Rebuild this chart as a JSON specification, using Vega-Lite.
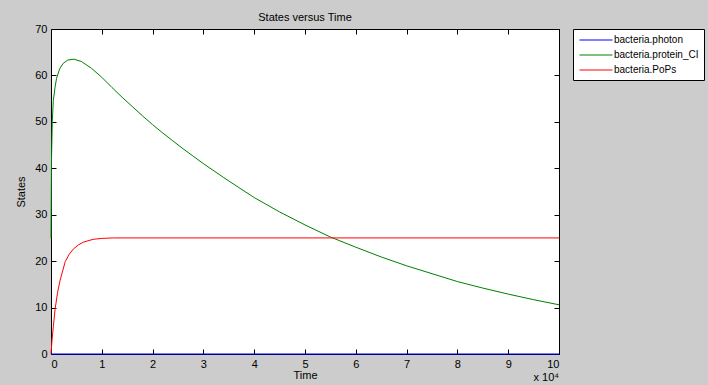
{
  "$schema": "https://vega.github.io/schema/vega-lite/v6.json",
  "width": 508,
  "height": 325,
  "autosize": {"type": "none"},
  "padding": {"left": 51, "top": 29, "right": 149, "bottom": 31},
  "background": "#cccccc",
  "title": {"text": "States versus Time", "fontSize": 11, "fontWeight": "normal", "font": "Liberation Sans", "color": "#000000", "anchor": "middle", "offset": 0},
  "config": {
    "view": {"fill": "#ffffff", "stroke": null},
    "axis": {"labelFont": "Liberation Sans", "labelFontSize": 11, "labelColor": "#000000", "titleFont": "Liberation Sans", "titleFontSize": 11, "titleFontWeight": "normal", "titleColor": "#000000", "domainColor": "#000000", "tickColor": "#000000", "tickSize": -5, "grid": false, "domainWidth": 1, "tickWidth": 1},
    "legend": {"labelFont": "Liberation Sans", "labelFontSize": 10, "labelColor": "#000000"}
  },
  "data": {"values": [
    {"series": "bacteria.photon", "t": 0, "v": 0},
    {"series": "bacteria.photon", "t": 10, "v": 0},
    {"series": "bacteria.protein_CI", "t": 0, "v": 25},
    {"series": "bacteria.protein_CI", "t": 0.01, "v": 42},
    {"series": "bacteria.protein_CI", "t": 0.025, "v": 50},
    {"series": "bacteria.protein_CI", "t": 0.046, "v": 54.6},
    {"series": "bacteria.protein_CI", "t": 0.08, "v": 57.5},
    {"series": "bacteria.protein_CI", "t": 0.11, "v": 59.4},
    {"series": "bacteria.protein_CI", "t": 0.17, "v": 61.4},
    {"series": "bacteria.protein_CI", "t": 0.24, "v": 62.6},
    {"series": "bacteria.protein_CI", "t": 0.33, "v": 63.3},
    {"series": "bacteria.protein_CI", "t": 0.45, "v": 63.5},
    {"series": "bacteria.protein_CI", "t": 0.6, "v": 63.0},
    {"series": "bacteria.protein_CI", "t": 0.8, "v": 61.5},
    {"series": "bacteria.protein_CI", "t": 1.0, "v": 59.6},
    {"series": "bacteria.protein_CI", "t": 1.2, "v": 57.4},
    {"series": "bacteria.protein_CI", "t": 1.4, "v": 55.3},
    {"series": "bacteria.protein_CI", "t": 1.6, "v": 53.3},
    {"series": "bacteria.protein_CI", "t": 1.8, "v": 51.3},
    {"series": "bacteria.protein_CI", "t": 2.0, "v": 49.4},
    {"series": "bacteria.protein_CI", "t": 2.2, "v": 47.6},
    {"series": "bacteria.protein_CI", "t": 2.4, "v": 45.9},
    {"series": "bacteria.protein_CI", "t": 2.6, "v": 44.2},
    {"series": "bacteria.protein_CI", "t": 2.8, "v": 42.6},
    {"series": "bacteria.protein_CI", "t": 3.0, "v": 41.0},
    {"series": "bacteria.protein_CI", "t": 3.4, "v": 38.0},
    {"series": "bacteria.protein_CI", "t": 3.76, "v": 35.4},
    {"series": "bacteria.protein_CI", "t": 4.0, "v": 33.7},
    {"series": "bacteria.protein_CI", "t": 4.5, "v": 30.6},
    {"series": "bacteria.protein_CI", "t": 5.0, "v": 27.8},
    {"series": "bacteria.protein_CI", "t": 5.5, "v": 25.2},
    {"series": "bacteria.protein_CI", "t": 6.0, "v": 23.0},
    {"series": "bacteria.protein_CI", "t": 6.5, "v": 20.9},
    {"series": "bacteria.protein_CI", "t": 7.0, "v": 19.0},
    {"series": "bacteria.protein_CI", "t": 7.5, "v": 17.3},
    {"series": "bacteria.protein_CI", "t": 8.0, "v": 15.6},
    {"series": "bacteria.protein_CI", "t": 8.5, "v": 14.2},
    {"series": "bacteria.protein_CI", "t": 9.0, "v": 12.9},
    {"series": "bacteria.protein_CI", "t": 9.5, "v": 11.7},
    {"series": "bacteria.protein_CI", "t": 10.0, "v": 10.6},
    {"series": "bacteria.PoPs", "t": 0, "v": 0},
    {"series": "bacteria.PoPs", "t": 0.02, "v": 3.0},
    {"series": "bacteria.PoPs", "t": 0.046, "v": 5.9},
    {"series": "bacteria.PoPs", "t": 0.08, "v": 9.6},
    {"series": "bacteria.PoPs", "t": 0.13, "v": 13.3},
    {"series": "bacteria.PoPs", "t": 0.18, "v": 15.9},
    {"series": "bacteria.PoPs", "t": 0.28, "v": 19.9},
    {"series": "bacteria.PoPs", "t": 0.36, "v": 21.5},
    {"series": "bacteria.PoPs", "t": 0.44, "v": 22.6},
    {"series": "bacteria.PoPs", "t": 0.54, "v": 23.5},
    {"series": "bacteria.PoPs", "t": 0.64, "v": 24.1},
    {"series": "bacteria.PoPs", "t": 0.83, "v": 24.7},
    {"series": "bacteria.PoPs", "t": 1.0, "v": 24.9},
    {"series": "bacteria.PoPs", "t": 1.23, "v": 25.0},
    {"series": "bacteria.PoPs", "t": 10.0, "v": 25.0}
  ]},
  "resolve": {"axis": {"x": "independent", "y": "independent"}},
  "layer": [
    {
      "mark": {"type": "line", "strokeWidth": 1, "interpolate": "linear"},
      "encoding": {
        "x": {"field": "t", "type": "quantitative", "scale": {"domain": [0, 10], "nice": false}, "axis": {"orient": "bottom", "values": [0,1,2,3,4,5,6,7,8,9,10], "title": "Time", "labelPadding": 9, "titlePadding": 0}},
        "y": {"field": "v", "type": "quantitative", "scale": {"domain": [0, 70], "nice": false}, "axis": {"orient": "left", "values": [0,10,20,30,40,50,60,70], "title": "States", "labelPadding": 9, "titlePadding": 8}},
        "color": {"field": "series", "type": "nominal", "sort": ["bacteria.photon", "bacteria.protein_CI", "bacteria.PoPs"],
          "scale": {"domain": ["bacteria.photon", "bacteria.protein_CI", "bacteria.PoPs"], "range": ["#0000ff", "#008000", "#ff0000"]},
          "legend": {"title": null, "orient": "right", "offset": 12, "padding": 5, "strokeColor": "#000000", "fillColor": "#ffffff", "symbolType": "M-3,0L3,0", "symbolSize": 121, "symbolStrokeWidth": 1, "symbolOffset": 12, "labelOffset": 12, "rowPadding": 4, "labelExpr": "datum.label + ' '"}}
      }
    },
    {
      "mark": {"type": "line", "opacity": 0},
      "encoding": {
        "x": {"field": "t", "type": "quantitative", "axis": {"orient": "top", "values": [0,1,2,3,4,5,6,7,8,9,10], "labels": false, "title": null}},
        "y": {"field": "v", "type": "quantitative", "axis": {"orient": "right", "values": [0,10,20,30,40,50,60,70], "labels": false, "title": null}},
        "detail": {"field": "series"}
      }
    },
    {
      "data": {"values": [{"note": "x 10⁴"}]},
      "mark": {"type": "text", "align": "right", "baseline": "middle", "dy": 24, "dx": 0, "font": "Liberation Sans", "fontSize": 11, "color": "#000000", "clip": false},
      "encoding": {
        "text": {"field": "note", "type": "nominal"},
        "x": {"datum": 10, "type": "quantitative", "axis": null},
        "y": {"datum": 0, "type": "quantitative", "axis": null}
      }
    }
  ]
}
